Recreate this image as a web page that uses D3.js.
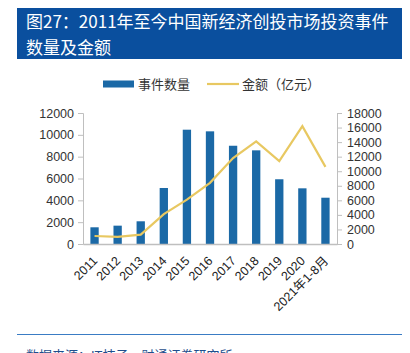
<!DOCTYPE html>
<html>
<head>
<meta charset="utf-8">
<script src="https://cdn.jsdelivr.net/npm/d3@7"></script>
<style>
  body { margin: 0; background: #fff; }
  svg text { font-family: "Liberation Sans", Arial, "Noto Sans CJK SC", sans-serif; }
</style>
</head>
<body>
<div id="chart"></div>
<script>
// chart data
var years = ["2011", "2012", "2013", "2014", "2015", "2016", "2017", "2018", "2019", "2020", "2021年1-8月"];
var eventCounts = [1530, 1680, 2080, 5130, 10470, 10320, 9000, 8580, 5930, 5100, 4240];
var amounts = [1100, 980, 1280, 4100, 6100, 8400, 11800, 14100, 11400, 16200, 10600];
var leftTicks = [0, 2000, 4000, 6000, 8000, 10000, 12000];
var rightTicks = [0, 2000, 4000, 6000, 8000, 10000, 12000, 14000, 16000, 18000];

var width = 410, height = 353;
var margin = { top: 113, right: 73, bottom: 109, left: 83 };

var svg = d3.select("#chart").append("svg")
    .attr("width", width)
    .attr("height", height);

// title box
svg.append("rect")
    .attr("x", 17).attr("y", 8)
    .attr("width", 385).attr("height", 51)
    .attr("fill", "#0a4f9e");

svg.append("text")
    .attr("x", 26).attr("y", 28)
    .attr("fill", "#fff")
    .style("font-size", "17px")
    .style("font-family", "'Noto Sans CJK SC', sans-serif")
    .text("图27：2011年至今中国新经济创投市场投资事件");

svg.append("text")
    .attr("x", 26).attr("y", 54)
    .attr("fill", "#fff")
    .style("font-size", "17px")
    .style("font-family", "'Noto Sans CJK SC', sans-serif")
    .text("数量及金额");

var plotW = width - margin.left - margin.right;
var plotH = height - margin.top - margin.bottom;

var g = svg.append("g")
    .attr("transform", "translate(" + margin.left + "," + margin.top + ")");

var x = d3.scaleBand()
    .domain(years)
    .range([0, plotW])
    .paddingInner(0.64)
    .paddingOuter(0.32);

var xPoint = function(d) { return x(d) + x.bandwidth() / 2; };

var yLeft = d3.scaleLinear().domain([0, 12000]).range([plotH, 0]);
var yRight = d3.scaleLinear().domain([0, 18000]).range([plotH, 0]);

// axes
var leftAxis = g.append("g")
    .call(d3.axisLeft(yLeft).tickValues(leftTicks).tickFormat(d3.format("d")).tickSize(5).tickPadding(4));
var rightAxis = g.append("g")
    .attr("transform", "translate(" + plotW + ",0)")
    .call(d3.axisRight(yRight).tickValues(rightTicks).tickFormat(d3.format("d")).tickSize(5).tickPadding(5));

[leftAxis, rightAxis].forEach(function(a) {
    a.selectAll("path, line").attr("stroke", "#bfbfbf");
    a.selectAll("text").attr("fill", "#333").style("font-size", "12.5px");
});

// bars
g.selectAll(".bar")
    .data(eventCounts)
    .enter().append("rect")
    .attr("class", "bar")
    .attr("x", function(d, i) { return x(years[i]); })
    .attr("y", function(d) { return yLeft(d); })
    .attr("width", x.bandwidth())
    .attr("height", function(d) { return plotH - yLeft(d); })
    .attr("fill", "#1b69a6");

// bottom axis
var bottomAxis = g.append("g")
    .attr("transform", "translate(0," + plotH + ")")
    .call(d3.axisBottom(x).tickSize(0));
bottomAxis.select("path").attr("stroke", "#bfbfbf").attr("stroke-width", 1.5);
bottomAxis.selectAll("text")
    .attr("fill", "#222")
    .style("font-size", "12.5px")
    .style("text-anchor", "end")
    .attr("x", -10)
    .attr("y", 15)
    .attr("dx", 0)
    .attr("dy", 0)
    .attr("transform", "rotate(-45)");

// line
var line = d3.line()
    .x(function(d, i) { return xPoint(years[i]); })
    .y(function(d) { return yRight(d); });

g.append("path")
    .datum(amounts)
    .attr("d", line)
    .attr("fill", "none")
    .attr("stroke", "#e8c861")
    .attr("stroke-width", 2.2);

// legend
var legend = svg.append("g").attr("transform", "translate(0,84)");
legend.append("rect")
    .attr("x", 103).attr("y", -3.5)
    .attr("width", 31).attr("height", 7)
    .attr("fill", "#1b69a6");
legend.append("text")
    .attr("x", 138).attr("y", 0).attr("dy", "0.35em")
    .attr("fill", "#333")
    .style("font-size", "13px")
    .text("事件数量");
legend.append("line")
    .attr("x1", 207).attr("x2", 239)
    .attr("y1", 0).attr("y2", 0)
    .attr("stroke", "#e8c861")
    .attr("stroke-width", 2.2);
legend.append("text")
    .attr("x", 242).attr("y", 0).attr("dy", "0.35em")
    .attr("fill", "#333")
    .style("font-size", "13px")
    .text("金额（亿元）");

// footer
svg.append("line")
    .attr("x1", 17).attr("x2", 402)
    .attr("y1", 334.5).attr("y2", 334.5)
    .attr("stroke", "#3a7cc4")
    .attr("stroke-width", 1);

svg.append("text")
    .attr("x", 26).attr("y", 360)
    .attr("fill", "#1f4e8c")
    .style("font-size", "13px")
    .text("数据来源：IT桔子，财通证券研究所");
</script>
</body>
</html>
